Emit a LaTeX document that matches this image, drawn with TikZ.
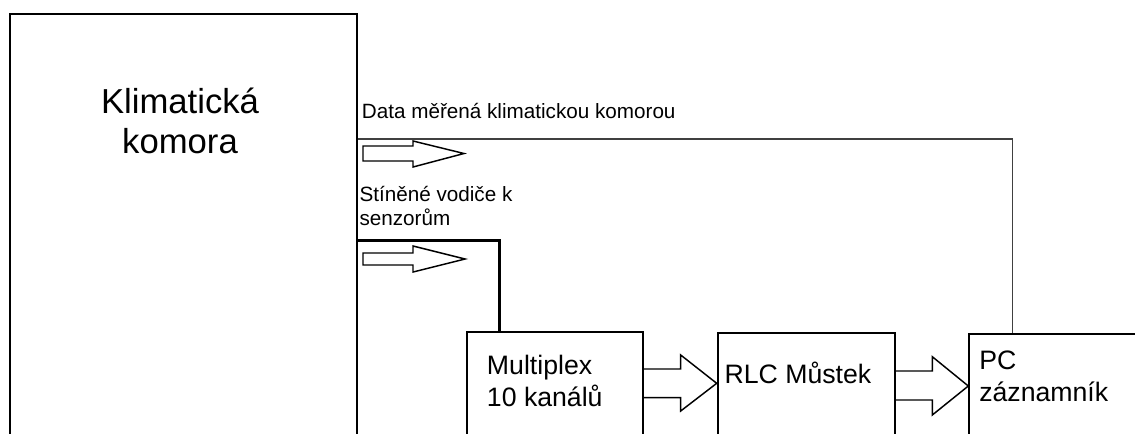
\documentclass[tikz,border=0pt]{standalone}
\usepackage{fontspec}
\setmainfont{Liberation Sans}
\usetikzlibrary{fit}
\begin{document}
\begin{tikzpicture}[x=0.75pt, y=-0.75pt,
	box/.style={draw, line width=1.5pt, inner sep=0pt},
	txt/.style={inner sep=0pt, align=left, anchor=base west},
	small/.style={txt, font=\fontsize{15.5}{17.5}\selectfont},
	boxtxt/.style={txt, font=\fontsize{20}{24}\selectfont},
	hollow/.style={draw, line width=1.1pt, line join=miter}]
		\useasboundingbox (0,0) rectangle (1135,433);
		\clip (0,0) rectangle (1135,433);
		\node [box, fit={(10,14) (357,470)}] (kk) {};
		\node [box, fit={(466.7,332.3) (642.7,470)}] (mux) {};
		\node [box, fit={(717.7,333.3) (895,470)}] (rlc) {};
		\node [box, fit={(969.3,334) (1160,470)}] (pc) {};

		% base = baseline of the last line
		\node [txt, align=center, anchor=base, font=\fontsize{26}{30}\selectfont] (kktxt) at (180,153) {Klimatická\\komora};
		\node [boxtxt] (muxtxt) at (486.7,406) {Multiplex\\10 kanálů};
		\node [boxtxt] (rlctxt) at (724.3,383) {RLC Můstek};
		\node [boxtxt] (pctxt) at (979,401) {PC\\záznamník};
		\node [small] (data) at (361.7,118.3) {Data měřená klimatickou komorou};
		\node [small] (vod) at (359.3,225) {Stíněné vodiče k\\senzorům};

		\draw [line width=1pt, black!75] (kk.east |- 0,139) -| (pc.north -| 1012.3,0);
		\draw [line width=2.25pt] (kk.east |- 0,240.7) -| (mux.north -| 499.3,0);

		\draw [hollow] (363,146) -- (413,146) -- (413,141) -- (464,153.5) -- (413,167) -- (413,161) -- (363,161) -- cycle;
		\draw [hollow] (363,253) -- (413,253) -- (413,246) -- (465,259) -- (413,272) -- (413,265) -- (363,265) -- cycle;
		\draw [hollow] (mux.east |- 0,369) -- (680.7,369) -- (680.7,355) -- (rlc.west |- 0,383.3) -- (680.7,411) -- (680.7,397.7) -- (mux.east |- 0,397.7);
		\draw [hollow] (rlc.east |- 0,371) -- (932.3,371) -- (932.3,356.7) -- (pc.west |- 0,386) -- (932.3,415) -- (932.3,400) -- (rlc.east |- 0,400);
		\end{tikzpicture}
\end{document}
